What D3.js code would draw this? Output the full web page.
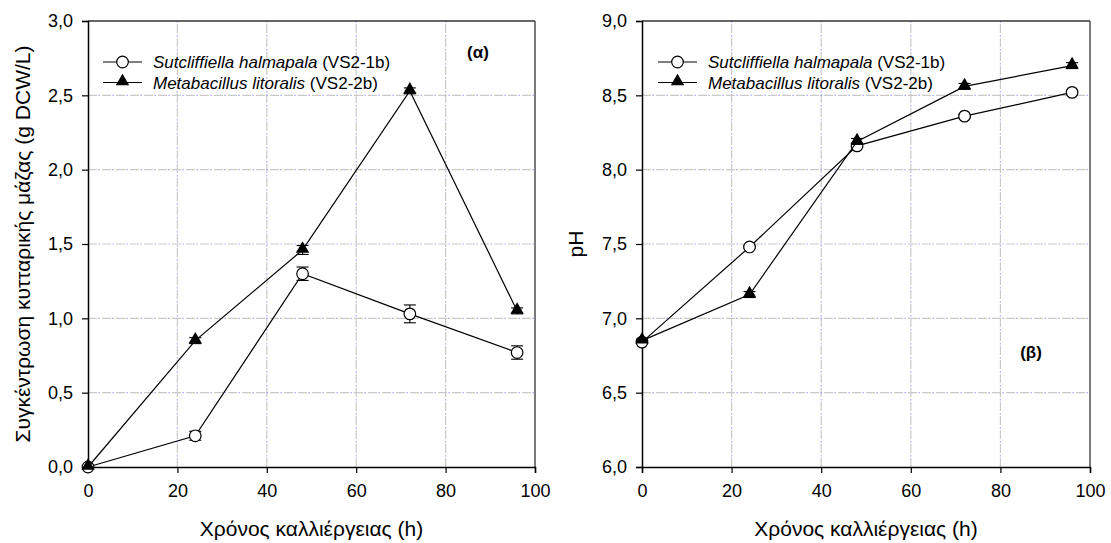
<!DOCTYPE html>
<html>
<head>
<meta charset="utf-8">
<script src="https://cdn.jsdelivr.net/npm/d3@7"></script>
<style>
  html, body { margin: 0; padding: 0; background: #fff; }
  svg { display: block; font-family: "Liberation Sans", Arial, sans-serif; }
</style>
</head>
<body>
<svg id="chart" width="1111" height="543"></svg>
<script>
// Sampling times (h)
const hours = [0, 24, 48, 72, 96];

// Panel (α): cell mass concentration (g DCW/L)
const massSutcliffiella = [0.00, 0.21, 1.30, 1.03, 0.77];
const massSutcliffiellaErr = [0.00, 0.03, 0.045, 0.06, 0.045];
const massMetabacillus = [0.00, 0.85, 1.46, 2.53, 1.05];
const massMetabacillusErr = [0.00, 0.02, 0.03, 0.02, 0.02];

// Panel (β): pH
const phSutcliffiella = [6.84, 7.48, 8.16, 8.36, 8.52];
const phSutcliffiellaErr = [0.01, 0.01, 0.01, 0.01, 0.01];
const phMetabacillus = [6.85, 7.16, 8.19, 8.56, 8.70];
const phMetabacillusErr = [0.01, 0.02, 0.02, 0.02, 0.02];

// Tick labels
const xTicks = [0, 20, 40, 60, 80, 100];
const massTicks = [0, 0.5, 1.0, 1.5, 2.0, 2.5, 3.0];
const phTicks = [6.0, 6.5, 7.0, 7.5, 8.0, 8.5, 9.0];

const legendNames = [
  { italic: "Sutcliffiella halmapala", plain: " (VS2-1b)", marker: "circle" },
  { italic: "Metabacillus litoralis", plain: " (VS2-2b)", marker: "triangle" }
];

const svg = d3.select("#chart");
const fmt = v => d3.format(".1f")(v).replace(".", ",");

function drawPanel(opts) {
  const { left, right, top, bottom, yDomain, yTicks, yTitle, yTitleX,
          series, tag, tagX, tagY, legendX } = opts;
  const x = d3.scaleLinear().domain([0, 100]).range([left, right]);
  const y = d3.scaleLinear().domain(yDomain).range([bottom, top]);
  const g = svg.append("g");

  // grid: grey dashes with faint blue dots in the gaps
  const gridX = xTicks.slice(1, -1);
  const gridY = yTicks.slice(1, -1);
  const grid = g.append("g");
  [["#c9c9c9", "9,5", 0, 1], ["#6a6aff", "1.2,12.8", -10.5, 0.7]].forEach(([c, dash, off, op]) => {
    grid.selectAll(null).data(gridX).join("line")
      .attr("x1", d => x(d)).attr("x2", d => x(d))
      .attr("y1", bottom).attr("y2", top)
      .attr("stroke", c).attr("stroke-width", 1.2).attr("opacity", op)
      .attr("stroke-dasharray", dash).attr("stroke-dashoffset", off);
    grid.selectAll(null).data(gridY).join("line")
      .attr("x1", left).attr("x2", right)
      .attr("y1", d => y(d)).attr("y2", d => y(d))
      .attr("stroke", c).attr("stroke-width", 1.2).attr("opacity", op)
      .attr("stroke-dasharray", dash).attr("stroke-dashoffset", off);
  });

  // frame
  g.append("line").attr("x1", left).attr("x2", right).attr("y1", top).attr("y2", top)
    .attr("stroke", "#333").attr("stroke-width", 1.3);
  g.append("line").attr("x1", right).attr("x2", right).attr("y1", top).attr("y2", bottom)
    .attr("stroke", "#333").attr("stroke-width", 1.3);

  // axes
  const xAxis = g.append("g").attr("transform", `translate(0,${bottom})`)
    .call(d3.axisBottom(x).tickValues(xTicks).tickSize(6).tickPadding(11).tickFormat(d3.format("d")));
  const yAxis = g.append("g").attr("transform", `translate(${left},0)`)
    .call(d3.axisLeft(y).tickValues(yTicks).tickSize(6).tickPadding(9).tickFormat(fmt));
  [xAxis, yAxis].forEach(a => {
    a.select(".domain").attr("stroke", "#000").attr("stroke-width", 1.5);
    a.selectAll(".tick line").attr("stroke", "#000").attr("stroke-width", 1.2);
    a.selectAll("text").attr("font-size", 18).attr("fill", "#000")
      .attr("font-family", "Liberation Sans, Arial, sans-serif");
  });

  // axis titles
  g.append("text").attr("x", (left + right) / 2).attr("y", 536)
    .attr("text-anchor", "middle").attr("font-size", 21).text("Χρόνος καλλιέργειας (h)");
  g.append("text").attr("transform", `translate(${yTitleX},${(top + bottom) / 2}) rotate(-90)`)
    .attr("text-anchor", "middle").attr("font-size", 21).text(yTitle);

  const line = d3.line().x(d => x(d.t)).y(d => y(d.v));
  const tri = d3.symbol().type(d3.symbolTriangle).size(78);

  series.forEach(s => {
    const pts = hours.map((t, i) => ({ t, v: s.values[i], e: s.err[i] }));
    const sg = g.append("g");
    sg.append("path").datum(pts).attr("d", line)
      .attr("fill", "none").attr("stroke", "#000").attr("stroke-width", 1.2);
    // error bars
    const eb = sg.selectAll(null).data(pts.filter(p => p.e > 0)).join("g");
    eb.append("line").attr("x1", d => x(d.t)).attr("x2", d => x(d.t))
      .attr("y1", d => y(d.v - d.e)).attr("y2", d => y(d.v + d.e))
      .attr("stroke", "#000").attr("stroke-width", 1.1);
    [-1, 1].forEach(sgn => {
      eb.append("line").attr("x1", d => x(d.t) - 6).attr("x2", d => x(d.t) + 6)
        .attr("y1", d => y(d.v + sgn * d.e)).attr("y2", d => y(d.v + sgn * d.e))
        .attr("stroke", "#000").attr("stroke-width", 1.1);
    });
    if (s.marker === "circle") {
      sg.selectAll(null).data(pts).join("circle")
        .attr("cx", d => x(d.t)).attr("cy", d => y(d.v)).attr("r", 5.8)
        .attr("fill", "#fff").attr("stroke", "#000").attr("stroke-width", 1.2);
    } else {
      sg.selectAll(null).data(pts).join("path")
        .attr("transform", d => `translate(${x(d.t)},${y(d.v) - 1})`)
        .attr("d", tri).attr("fill", "#000");
    }
  });

  // legend
  const lg = g.append("g");
  legendNames.forEach((n, i) => {
    const ly = 62 + i * 20.5;
    lg.append("line").attr("x1", legendX).attr("x2", legendX + 39)
      .attr("y1", ly).attr("y2", ly).attr("stroke", "#000").attr("stroke-width", 1.2);
    if (n.marker === "circle") {
      lg.append("circle").attr("cx", legendX + 19.5).attr("cy", ly).attr("r", 5.8)
        .attr("fill", "#fff").attr("stroke", "#000").attr("stroke-width", 1.2);
    } else {
      lg.append("path").attr("transform", `translate(${legendX + 19.5},${ly - 1})`)
        .attr("d", tri).attr("fill", "#000");
    }
    const t = lg.append("text").attr("x", legendX + 50).attr("y", ly + 6).attr("font-size", 17);
    t.append("tspan").attr("font-style", "italic").text(n.italic);
    t.append("tspan").text(n.plain);
  });

  g.append("text").attr("x", tagX).attr("y", tagY).attr("text-anchor", "middle")
    .attr("font-size", 17).attr("font-weight", "bold").text(tag);
}

drawPanel({
  left: 88, right: 535, top: 21, bottom: 467,
  yDomain: [0, 3], yTicks: massTicks,
  yTitle: "Συγκέντρωση κυτταρικής μάζας (g DCW/L)", yTitleX: 30,
  series: [
    { values: massSutcliffiella, err: massSutcliffiellaErr, marker: "circle" },
    { values: massMetabacillus, err: massMetabacillusErr, marker: "triangle" }
  ],
  tag: "(α)", tagX: 478, tagY: 58, legendX: 103
});

drawPanel({
  left: 642, right: 1090, top: 21, bottom: 467,
  yDomain: [6, 9], yTicks: phTicks,
  yTitle: "pH", yTitleX: 583,
  series: [
    { values: phSutcliffiella, err: phSutcliffiellaErr, marker: "circle" },
    { values: phMetabacillus, err: phMetabacillusErr, marker: "triangle" }
  ],
  tag: "(β)", tagX: 1031, tagY: 358, legendX: 658
});
</script>
</body>
</html>
